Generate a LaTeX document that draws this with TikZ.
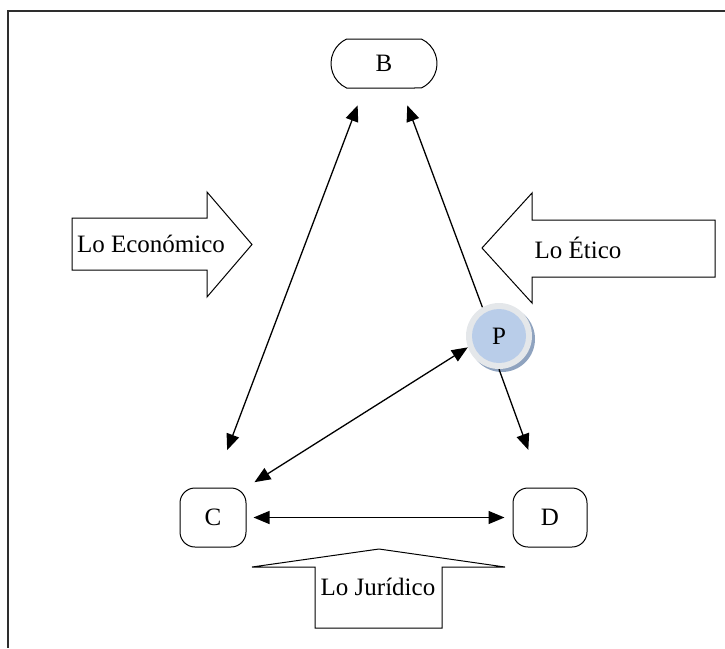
\documentclass[tikz,border=0pt]{standalone}
\usepackage{fontspec}
\setmainfont{Liberation Serif}
\usetikzlibrary{
  arrows.meta, positioning, shapes.misc, calc, shadows
}
\definecolor{colFrame}  {HTML}{2E2E2E}
\definecolor{colRing}   {HTML}{E4E7EA}
\definecolor{colPBlue}  {HTML}{B9CDE9}
\definecolor{colPShadow}{HTML}{8FA3BF}
\tikzset{
  term/.style={
    draw, rounded rectangle, line width=1pt,
    inner sep=0pt, minimum height=49pt
  },
  store/.style={
    draw, rectangle, rounded corners=15pt, line width=1pt,
    inner sep=0pt, minimum height=59pt
  },
  pnode/.style={
    circle, minimum size=66pt, inner sep=0pt, fill=colRing,
    drop shadow={shadow xshift=3pt, shadow yshift=-3pt,
                 fill=colPShadow, opacity=1},
    path picture={\fill[colPBlue] (path picture bounding box.center) circle (27pt);}
  },
  push/.style={draw, line width=1pt, fill=white, line join=miter},
  frame/.style={draw=colFrame, line width=1.6pt},
  link/.style={
    -{Triangle[length=16pt,width=13pt]},
    line width=1.3pt
  },
  dlink/.style={
    {Triangle[length=16pt,width=13pt]}-{Triangle[length=16pt,width=13pt]},
    line width=1.3pt
  }
}
\begin{document}
\begin{tikzpicture}[x=1pt, y=-1pt, font=\fontsize{25}{29}\selectfont]
  \useasboundingbox (0,0) rectangle (725,648);
  % frame, only top and left edges show
  \draw[frame] (725,11) -- (8,11) -- (8,648);

  % block arrows
  \draw[push] (72,218) -- (207,218) -- (207,192) -- (252,244.5)
    -- (207,297) -- (207,270) -- (72,270) -- cycle;
  \node (eco) at (151,244) {Lo Económico};
  \draw[push] (715,220) -- (532,220) -- (532,193) -- (482,248)
    -- (532,303) -- (532,277) -- (715,277) -- cycle;
  \node (eti) at (578,248) {Lo Ético};
  \draw[push] (315,628) -- (315,567) -- (252,567) -- (379,549)
    -- (505,567) -- (442,567) -- (442,628) -- cycle;
  \node (jur) at (378,587) {Lo Jurídico};

  % places
  \node[term, minimum width=106pt,
        rounded rectangle arc length=130] (B) at (384,63.5) {B};
  \node[store, minimum width=66pt] (C) at (213,517.5) {C};
  \node[store, minimum width=74pt] (D) at (550,517.5) {D};
  \node[pnode] (P) at (499,336) {P};

  % connectors
  \draw[dlink, shorten <=18pt, shorten >=40pt] ([xshift=-20pt]B.south) -- (C.north);
  \draw[link, shorten >=18pt] (P.120) -- ([xshift=17pt]B.south);
  \draw[link, shorten >=40pt] (P.south) -- ([xshift=-8pt]D.north);
  \draw[dlink, shorten <=10pt] ([xshift=33pt]C.north) -- (P.200);
  \draw[dlink, shorten <=7pt, shorten >=8pt] (C.east) -- (D.west);
\end{tikzpicture}
\end{document}
